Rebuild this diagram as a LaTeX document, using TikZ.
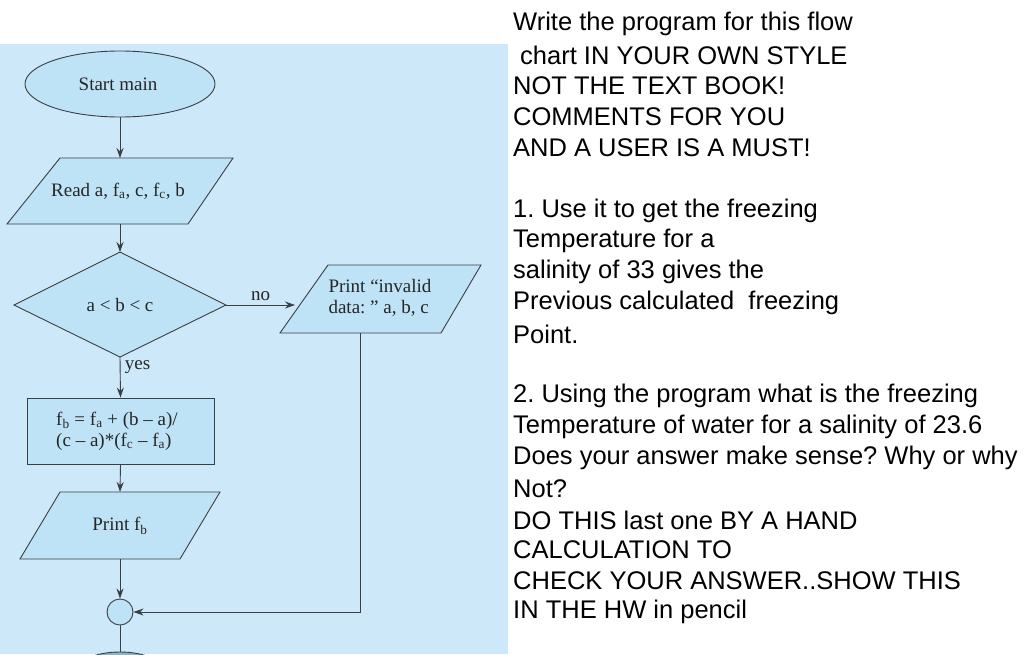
\documentclass[tikz,border=0pt]{standalone}
\usepackage{fontspec}
\setmainfont{Liberation Serif}
\newfontfamily\arialf{Liberation Sans}
\usetikzlibrary{shapes.geometric,arrows.meta}
\definecolor{panel}{HTML}{CDE8F8}
\definecolor{boxfill}{HTML}{BEE3F7}
\definecolor{edge}{HTML}{3A3F44}
\frenchspacing
\tikzset{
  shp/.style={draw=edge, fill=boxfill, line width=0.9pt},
  conn/.style={draw=edge, line width=0.9pt, -{Stealth[length=10pt,width=7pt]}},
  plain/.style={draw=edge, line width=0.9pt},
  dtxt/.style={font=\fontsize{19}{21}\selectfont, text=black!85, align=center},
  rtxt/.style={font=\arialf\fontsize{25.5}{28}\selectfont, anchor=west, inner sep=0pt},
}
\begin{document}
\begin{tikzpicture}[x=1pt,y=-1pt]
\useasboundingbox (0,0) rectangle (1024,654);
\fill[white] (0,0) rectangle (1024,654);
\fill[panel] (0,44) rectangle (508,654);
% shapes
\node[shp, ellipse, minimum width=190pt, minimum height=66pt, inner sep=0pt] (start) at (120,84) {};
\node[dtxt] at (118,84) {Start main};
\draw[shp] (60,158) -- (233,158) -- (188,224) -- (7,224) -- cycle;
\coordinate (readT) at (120,158); \coordinate (readB) at (120,224);
\node[dtxt] (read) at (118,191) {Read a, f\textsubscript{a}, c, f\textsubscript{c}, b};
\draw[shp] (120,252) -- (226,305) -- (120,357) -- (14,305) -- cycle;
\coordinate (decT) at (120,252); \coordinate (decB) at (120,357); \coordinate (decR) at (226,305);
\node[dtxt] (dec) at (120,305) {a {\textless} b {\textless} c};
\draw[shp] (328,265) -- (481,265) -- (441,333) -- (280,333) -- cycle;
\coordinate (invL) at (295,305); \coordinate (invB) at (360,333);
\node[dtxt, align=left] (inv) at (380,298) {Print “invalid\\data: ” a, b, c};
\node[shp, rectangle, minimum width=187pt, minimum height=66pt] (calc) at (120.5,431) {};
\node[dtxt, align=left] at (117,431) {f\textsubscript{b} = f\textsubscript{a} + (b – a)/\\(c – a)*(f\textsubscript{c} – f\textsubscript{a})};
\draw[shp] (60,492) -- (220,492) -- (180,559) -- (20,559) -- cycle;
\coordinate (prT) at (120,492); \coordinate (prB) at (120,559);
\node[dtxt] (pr) at (120,526) {Print f\textsubscript{b}};
\node[shp, circle, minimum size=26pt, inner sep=0pt] (jn) at (120,612) {};
\begin{scope}
\clip (0,600) rectangle (508,654);
\node[shp, ellipse, minimum width=90pt, minimum height=40pt, fill=boxfill!70!edge] (endn) at (120,672) {};
\end{scope}
% connectors
\draw[conn] (start) -- (readT);
\draw[conn] (readB) -- (decT);
\draw[conn] (decR) -- node[dtxt, above=1pt] {no} (invL);
\draw[conn] (decB) -- node[dtxt, pos=0.25, right=1pt] {yes} (calc.north);
\draw[conn] (calc.south) -- (prT);
\draw[conn] (prB) -- (jn);
\draw[conn] (invB) -- (360,612) -- (jn);
\draw[plain] (jn) -- (120,652);
% right text
\node[rtxt] at (513,24) {Write the program for this flow};
\node[rtxt] at (520,55) {chart IN YOUR OWN STYLE};
\node[rtxt] at (513,86) {NOT THE TEXT BOOK!};
\node[rtxt] at (513,117) {COMMENTS FOR YOU};
\node[rtxt] at (513,148) {AND A USER IS A MUST!};
\node[rtxt] at (513,211) {1. Use it to get the freezing};
\node[rtxt] at (513,241) {Temperature for a};
\node[rtxt] at (513,272) {salinity of 33 gives the};
\node[rtxt] at (513,303) {Previous calculated\ \ freezing};
\node[rtxt] at (513,334) {Point.};
\node[rtxt] at (513,396) {2. Using the program what is the freezing};
\node[rtxt] at (513,427) {Temperature of water for a salinity of 23.6};
\node[rtxt] at (513,458) {Does your answer make sense? Why or why};
\node[rtxt] at (513,489) {Not?};
\node[rtxt] at (513,520) {DO THIS last one BY A HAND};
\node[rtxt] at (513,550) {CALCULATION TO};
\node[rtxt] at (513,581) {CHECK YOUR ANSWER..SHOW THIS};
\node[rtxt] at (513,612) {IN THE HW in pencil};
\end{tikzpicture}
\end{document}
